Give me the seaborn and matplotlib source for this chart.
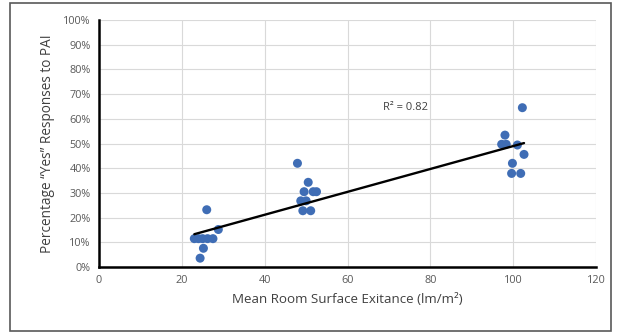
import numpy as np
import pandas as pd
import matplotlib
matplotlib.use("Agg")
import matplotlib.pyplot as plt
from matplotlib.ticker import FuncFormatter, MultipleLocator
from matplotlib.patches import Rectangle
import seaborn as sns

# Mean room surface exitance (lm/m2) and % "Yes" responses
exitance = [23.0, 24.0, 25.0, 26.2, 27.5, 26.0, 28.8, 25.2, 24.4,
            47.9, 50.5, 49.5, 51.7, 52.5, 48.7, 50.0, 49.2, 51.1,
            102.2, 98.0, 97.2, 98.3, 101.0, 102.6, 99.8, 99.6, 101.8]
pct_yes = [11.5, 11.5, 11.5, 11.5, 11.5, 23.2, 15.2, 7.6, 3.6,
           42.0, 34.3, 30.5, 30.5, 30.5, 26.8, 26.8, 22.8, 22.8,
           64.5, 53.4, 49.7, 49.7, 49.4, 45.6, 42.0, 37.9, 37.9]
r2_label = "R\u00b2 = 0.82"

df = pd.DataFrame({"Exitance": exitance, "Yes": pct_yes})

sns.set_style("white")
plt.rcParams['font.family'] = ['Open Sans', 'DejaVu Sans']

fig = plt.figure(figsize=(6.19, 3.33), dpi=100)
ax = fig.add_axes([0.160, 0.198, 0.803, 0.742])

sns.regplot(data=df, x="Exitance", y="Yes", ax=ax, ci=None, truncate=True,
            scatter_kws={"s": 42, "color": "#3f6db5", "edgecolor": "none", "alpha": 1, "zorder": 3},
            line_kws={"color": "black", "linewidth": 1.7, "zorder": 4})

ax.set_xlim(0, 120)
ax.set_ylim(0, 100)
ax.xaxis.set_major_locator(MultipleLocator(20))
ax.yaxis.set_major_locator(MultipleLocator(10))
ax.yaxis.set_major_formatter(FuncFormatter(lambda v, pos: '{:.0f}%'.format(v)))
ax.grid(True, color="#d9d9d9", linewidth=0.8)
ax.set_axisbelow(True)

for side in ["top", "right"]:
    ax.spines[side].set_visible(False)
for side in ["left", "bottom"]:
    ax.spines[side].set_color("black")
    ax.spines[side].set_linewidth(1.8)

ax.tick_params(axis="both", length=0, labelsize=7.8, labelcolor="#595959", pad=6)
ax.set_xlabel("Mean Room Surface Exitance (lm/m\u00b2)", fontsize=9.6, color="#404040", labelpad=5)
ax.set_ylabel("Percentage \u201cYes\u201d Responses to PAI", fontsize=9.8, color="#404040", labelpad=6)

ax.text(74.0, 64.5, r2_label, fontsize=8, color="#404040", ha="center", va="center")

# outer chart frame
fig.patches.append(Rectangle((10 / 619, 2 / 333), 601 / 619, 328 / 333, transform=fig.transFigure,
                             fill=False, edgecolor="#595959", linewidth=1.2))

fig.savefig("out.png", dpi=100)
